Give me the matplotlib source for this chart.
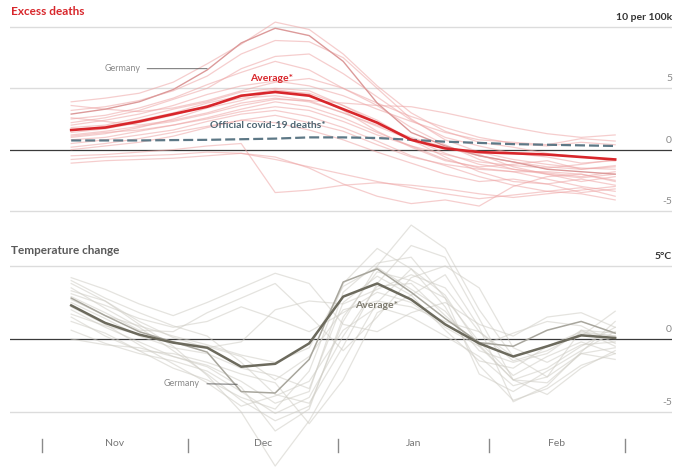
import matplotlib
matplotlib.use("Agg")
import matplotlib.pyplot as plt
import matplotlib.transforms as mtransforms
import pandas as pd

plt.rcParams['font.family'] = ['Lato', 'DejaVu Sans']

# --- Data ---
week_dates = pd.date_range("2020-11-07", periods=17, freq="7D")
month_starts = pd.to_datetime(["2020-11-01", "2020-12-01", "2021-01-01", "2021-02-01", "2021-03-01"])
month_labels = ["Nov", "Dec", "Jan", "Feb"]

# excess deaths per 100k
deaths_average = [1.6, 1.8, 2.3, 2.9, 3.5, 4.4, 4.7, 4.4, 3.3, 2.2, 0.8, 0.1, -0.2, -0.3, -0.4, -0.6, -0.8]
deaths_official = [0.75, 0.75, 0.75, 0.78, 0.8, 0.85, 0.9, 1.0, 1.0, 0.95, 0.8, 0.65, 0.55, 0.45, 0.4, 0.35, 0.3]
deaths_germany = [2.9, 3.3, 3.9, 4.9, 6.5, 8.7, 9.9, 9.3, 7.2, 3.8, 1.4, 0.3, -0.5, -1.0, -1.6, -1.8, -2.0]
deaths_countries = [
    [3.9, 4.2, 4.6, 5.5, 7.0, 8.6, 10.4, 9.8, 7.8, 5.2, 3.0, 1.5, 0.6, 0.2, -0.3, -0.6, -0.9],
    [3.2, 3.5, 4.0, 4.8, 6.0, 7.8, 8.9, 8.8, 7.5, 5.0, 2.5, 0.8, -0.2, -0.8, -1.2, -1.5, -1.6],
    [2.5, 2.8, 3.4, 4.2, 5.3, 6.3, 7.2, 6.5, 5.0, 3.8, 2.7, 1.8, 1.0, 0.5, 0.3, 0.6, 0.4],
    [2.0, 2.4, 2.9, 3.6, 4.5, 5.2, 5.6, 5.2, 4.4, 3.3, 2.3, 1.4, 0.8, 0.6, 0.4, 0.9, 0.7],
    [1.8, 2.0, 2.6, 3.3, 3.9, 4.7, 5.0, 4.8, 3.6, 2.2, 0.9, -0.3, -1.2, -1.6, -1.9, -2.2, -1.8],
    [1.4, 1.7, 2.2, 2.8, 3.6, 4.2, 4.4, 4.0, 3.0, 2.0, 1.0, 0.2, -0.5, -1.0, -1.4, -1.6, -1.3],
    [1.0, 1.3, 1.8, 2.5, 3.4, 4.0, 4.8, 4.6, 3.6, 2.4, 0.8, -0.6, -1.8, -2.6, -2.8, -2.4, -2.9],
    [0.8, 1.0, 1.5, 2.0, 2.6, 3.3, 3.9, 3.5, 2.6, 1.4, 0.3, -0.8, -1.5, -1.8, -2.4, -3.0, -3.4],
    [2.6, 2.3, 2.0, 2.4, 3.0, 3.8, 4.2, 3.9, 3.0, 1.9, 0.8, 0.2, -0.4, -1.4, -2.0, -2.6, -2.2],
    [0.5, 0.8, 1.2, 1.6, 2.3, 2.9, 3.2, 2.7, 1.8, 0.7, -0.5, -1.3, -2.2, -2.9, -3.4, -3.1, -3.8],
    [0.2, 0.5, 0.9, 1.4, 1.9, 2.4, 2.8, 2.2, 1.5, 0.4, -0.6, -1.2, -1.6, -1.8, -1.8, -2.0, -2.5],
    [-0.5, -0.4, -0.2, 0.0, 0.3, 0.5, -3.5, -3.3, -2.9, -2.7, -2.9, -3.2, -3.6, -3.9, -3.6, -3.3, -3.0],
    [-1.1, -0.9, -0.8, -0.7, -0.5, -0.3, -0.8, -1.4, -2.0, -2.6, -3.1, -3.6, -4.0, -3.7, -3.4, -3.6, -4.1],
    [-0.8, -0.6, -0.5, -0.4, -0.2, -0.3, -0.6, -1.5, -2.8, -3.8, -4.4, -4.1, -4.6, -3.0, -2.2, -2.0, -2.6],
    [1.2, 1.5, 1.9, 2.3, 2.9, 3.6, 4.1, 4.0, 3.8, 3.6, 3.5, 3.0, 2.4, 1.8, 1.3, 1.0, 1.2],
    [3.6, 3.3, 3.1, 3.4, 4.0, 4.8, 5.5, 5.8, 5.0, 3.6, 1.8, 0.4, -0.8, -1.6, -2.0, -2.3, -2.0],
    [1.6, 1.9, 2.4, 3.0, 3.8, 4.4, 4.9, 4.5, 3.2, 1.5, 0.2, -0.9, -1.4, -1.2, -0.9, -1.6, -1.4],
    [2.2, 2.6, 3.2, 4.1, 5.0, 6.6, 7.6, 7.8, 6.2, 4.3, 2.4, 1.0, 0.3, -0.3, -0.6, -1.1, -0.9],
    [0.0, 0.3, 0.6, 1.1, 1.8, 2.4, 2.2, 1.6, 0.8, -0.2, -1.1, -2.0, -2.6, -2.4, -2.8, -3.5, -3.2],
    [1.1, 1.4, 1.6, 2.0, 2.5, 3.1, 3.5, 3.2, 2.3, 1.2, 0.3, -0.4, -1.0, -1.3, -1.5, -1.2, -0.8],
]

# temperature change, degrees C
temp_average = [2.3, 1.1, 0.3, -0.25, -0.6, -1.9, -1.7, -0.3, 2.9, 3.8, 2.7, 1.0, -0.3, -1.2, -0.5, 0.25, 0.07]
temp_germany = [2.8, 1.6, 0.5, -0.2, -0.9, -3.6, -3.7, -1.4, 3.9, 4.8, 3.2, 1.4, -0.25, -0.5, 0.6, 1.2, 0.4]
temp_countries = [
    [3.8, 2.6, 1.0, -0.5, -2.5, -5.0, -8.7, -5.6, -1.5, 2.5, 4.8, 3.0, -0.5, -2.8, -2.0, -0.5, 0.8],
    [4.2, 3.4, 2.4, 1.6, 2.5, 3.5, 4.5, 3.8, 1.0, 0.5, 1.8, 2.5, 1.0, 0.2, 1.5, 1.8, 0.8],
    [3.5, 2.1, 0.8, -0.8, -2.4, -4.2, -5.6, -4.6, 1.2, 5.0, 7.8, 6.2, 2.0, -1.2, -2.6, -1.0, -0.6],
    [2.9, 1.8, 0.6, 0.5, 1.8, 2.8, 3.8, 1.6, -0.8, 1.5, 4.2, 5.0, 3.5, -0.6, -1.6, -0.4, -0.2],
    [2.0, 0.8, -0.2, -1.2, -1.8, -2.9, -4.4, -3.6, 3.2, 5.2, 5.6, 2.8, -2.4, -3.6, -2.2, -0.8, 0.5],
    [1.2, 0.4, -0.8, -2.0, -2.8, -4.0, -4.8, -2.2, 3.8, 6.2, 4.8, 2.2, -1.8, -4.2, -3.4, -1.8, -1.0],
    [3.1, 2.3, 1.4, 0.8, 1.2, 2.2, 1.4, 0.5, 1.8, 3.2, 2.5, 0.8, -0.5, 0.4, 1.2, 0.9, -0.3],
    [0.6, -0.3, -1.0, -1.5, -2.2, -3.6, -5.1, -4.0, 0.2, 3.6, 3.8, 1.6, -0.4, -2.8, -3.0, -1.0, -1.4],
    [2.5, 1.4, 0.2, -0.6, -1.0, -2.0, -2.5, -3.4, 2.5, 4.3, 3.0, 0.6, -1.5, -2.0, -0.5, 0.5, 0.2],
    [1.7, 0.9, 0.3, -0.2, -0.5, -1.2, -2.8, -1.2, 2.0, 2.6, 2.2, 1.2, 0.5, -1.2, -0.5, 0.2, 1.9],
    [4.0, 2.8, 1.8, 0.9, 0.2, -1.6, -3.8, -4.4, -0.5, 3.8, 6.4, 5.6, 1.4, -2.8, -3.8, -2.0, -0.8],
    [0.0, -0.4, -0.6, -1.2, -1.9, -3.3, -6.3, -4.8, 1.5, 4.6, 4.0, 2.8, -0.2, -2.5, -1.2, -0.2, -1.0],
    [2.2, 1.0, -0.4, -1.7, -3.0, -4.6, -3.9, -2.9, 0.6, 2.2, 1.5, 0.2, -1.2, -3.2, -2.6, 0.6, -0.5],
    [3.3, 2.6, 1.2, 0.1, -0.6, -0.2, 2.0, 2.6, 2.4, 3.4, 4.4, 3.5, 0.5, -1.5, -0.8, 0.4, 0.2],
    [1.5, 0.2, -0.8, -1.0, -1.6, -2.4, -3.0, -5.8, -2.8, 1.8, 3.0, 4.4, 0.8, -4.3, -3.2, -0.9, 1.2],
    [2.7, 1.6, 0.9, 0.2, -0.4, -1.1, -1.6, -0.6, 3.6, 4.9, 3.4, 1.9, -0.8, -1.6, -1.0, 0.6, 0.4],
]

# --- Style ---
RED = "#d8262b"
PINK = "#eea5a5"
GERMANY_RED = "#dc9a9a"
SLATE = "#5d7886"
OLIVE = "#6c6a5d"
LIGHT_GREY = "#cfcdc5"
GERMANY_GREY = "#a8a69d"
GRID = "#dcdcdc"

W, H = 675, 471
fig = plt.figure(figsize=(W / 100, H / 100), dpi=100)


def px_axes(top, bottom, left=10, right=672):
    return fig.add_axes([left / W, 1 - bottom / H, (right - left) / W, (bottom - top) / H])


day0 = month_starts[0]
xlim = (day0 - pd.Timedelta(days=6.6), day0 + pd.Timedelta(days=129.7))

ax1 = px_axes(15, 222)
ax2 = px_axes(222, 471)

for ax in (ax1, ax2):
    ax.set_xlim(*xlim)
    ax.axis("off")

ax1.set_ylim(-5.9, 10.98)
ax2.set_ylim(-9.04, 8.01)


def right_label(ax, y, text, bold=False):
    ax.annotate(text, xy=(1, y), xycoords=("axes fraction", "data"),
                xytext=(0, 3.5), textcoords="offset points",
                ha="right", va="bottom", fontsize=7.5,
                fontweight="bold" if bold else "normal",
                color="#333333" if bold else "#8a8a8a")


# --- Top panel: excess deaths ---
for v in (10, 5, -5):
    ax1.axhline(v, color=GRID, lw=1.0, zorder=0)
ax1.axhline(0, color="#3a3a3a", lw=0.9, zorder=1)

for series in deaths_countries:
    ax1.plot(week_dates, series, color=PINK, lw=0.9, alpha=0.55, zorder=2)
ax1.plot(week_dates, deaths_germany, color=GERMANY_RED, lw=1.0, zorder=3)
ax1.plot(week_dates, deaths_official, color=SLATE, lw=1.6, dashes=(4.5, 1.8), zorder=4)
ax1.plot(week_dates, deaths_average, color=RED, lw=1.9, zorder=5)

right_label(ax1, 10, "10 per 100k", bold=True)
right_label(ax1, 5, "5")
right_label(ax1, 0, "0")
right_label(ax1, -5, "-5")

ax1.text(week_dates[5] + pd.Timedelta(days=1.8), 5.8, "Average*", color=RED,
         fontsize=7.5, fontweight="bold", ha="left", va="center")
ax1.text(week_dates[4] + pd.Timedelta(days=0.6), 1.95, "Official covid-19 deaths*",
         color="#4e6672", fontsize=7.5, fontweight="bold", ha="left", va="center")
ax1.annotate("Germany", xy=(week_dates[4], 6.6),
             xytext=(week_dates[2] + pd.Timedelta(days=0.2), 6.6),
             color="#8a8a8a", fontsize=6.5, ha="right", va="center",
             arrowprops=dict(arrowstyle="-", color="#555555", lw=0.6,
                             shrinkA=3, shrinkB=0))

# --- Bottom panel: temperature change ---
for v in (5, -5):
    ax2.axhline(v, color=GRID, lw=1.0, zorder=0)
ax2.axhline(0, color="#3a3a3a", lw=0.9, zorder=1)

for series in temp_countries:
    ax2.plot(week_dates, series, color=LIGHT_GREY, lw=0.9, alpha=0.55, zorder=2)
ax2.plot(week_dates, temp_germany, color=GERMANY_GREY, lw=1.1, zorder=3)
ax2.plot(week_dates, temp_average, color=OLIVE, lw=1.8, zorder=5)

right_label(ax2, 5, "5°C", bold=True)
right_label(ax2, 0, "0")
right_label(ax2, -5, "-5")

ax2.text(week_dates[8] + pd.Timedelta(days=2.5), 2.3, "Average*", color="#7f7c70",
         fontsize=7.5, fontweight="bold", ha="left", va="center")
ax2.annotate("Germany", xy=(week_dates[5] - pd.Timedelta(days=0.8), -3.1),
             xytext=(week_dates[3] + pd.Timedelta(days=5.5), -3.05),
             color="#8a8a8a", fontsize=6.5, ha="right", va="center",
             arrowprops=dict(arrowstyle="-", color="#555555", lw=0.6,
                             shrinkA=3, shrinkB=0))

# month separators and labels
sep_trans = mtransforms.blended_transform_factory(ax2.transData, ax2.transAxes)
for d in month_starts:
    ax2.plot([d, d], [0.077, 0.13], color="#8a8a8a", lw=1.0,
             transform=sep_trans, clip_on=False)
for i, lab in enumerate(month_labels):
    mid = month_starts[i] + (month_starts[i + 1] - month_starts[i]) / 2
    ax2.text(mid, 0.11, lab, transform=sep_trans, ha="center", va="center",
             fontsize=7.5, color="#777777")

# titles
fig.text(11 / W, 1 - 11.5 / H, "Excess deaths", color=RED, fontsize=8.5,
         fontweight="bold", ha="left", va="center")
fig.text(11 / W, 1 - 250 / H, "Temperature change", color="#5a5a5a", fontsize=8.5,
         fontweight="bold", ha="left", va="center")

fig.savefig("out.png", dpi=100, facecolor="white")
